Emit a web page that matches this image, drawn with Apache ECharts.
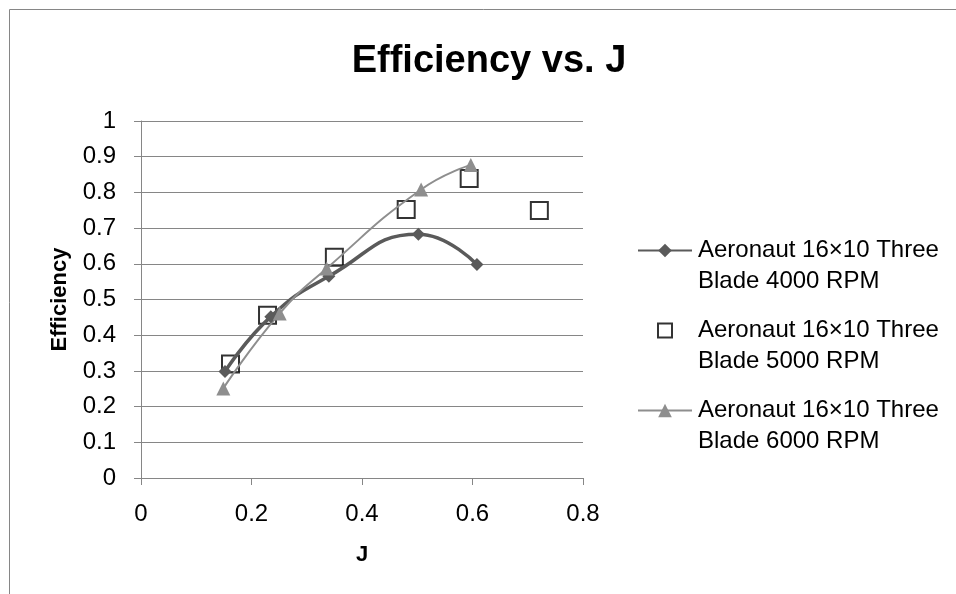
<!DOCTYPE html>
<html>
<head>
<meta charset="utf-8">
<script src="https://cdn.jsdelivr.net/npm/echarts@6/dist/echarts.min.js"></script>
<style>html,body{margin:0;padding:0;background:#fff;}#c{width:956px;height:594px;}</style>
</head>
<body>
<div id="c"></div>
<script>
const titleText = 'Efficiency vs. J';
const xName = 'J';
const yName = 'Efficiency';
const seriesNames = ['Aeronaut 16×10 Three Blade 4000 RPM', 'Aeronaut 16×10 Three Blade 5000 RPM', 'Aeronaut 16×10 Three Blade 6000 RPM'];
const legendLine1 = ['Aeronaut 16×10 Three', 'Aeronaut 16×10 Three', 'Aeronaut 16×10 Three'];
const legendLine2 = ['Blade 4000 RPM', 'Blade 5000 RPM', 'Blade 6000 RPM'];
const j4000 = [0.152, 0.235, 0.340, 0.502, 0.608];
const eff4000 = [0.298, 0.452, 0.565, 0.683, 0.598];
const j5000 = [0.162, 0.229, 0.350, 0.480, 0.594, 0.721];
const eff5000 = [0.319, 0.456, 0.618, 0.752, 0.839, 0.749];
const j6000 = [0.149, 0.251, 0.336, 0.507, 0.597];
const eff6000 = [0.251, 0.461, 0.587, 0.808, 0.877];

const pairs = (xs, ys) => xs.map((x, i) => [x, ys[i]]);
const FONT = 'Liberation Sans';
const AX = '#868686';

const chart = echarts.init(document.getElementById('c'), null, {renderer: 'canvas'});
const legendBase = (idx, top, left, w, h, padLeft) => ({
  data: [seriesNames[idx]], orient: 'vertical', left: left, top: top, padding: 0,
  itemWidth: w, itemHeight: h,
  formatter: () => '{a| }\n{a|' + legendLine1[idx] + '}\n{a|' + legendLine2[idx] + '}',
  textStyle: {
    fontFamily: FONT, fontSize: 24, color: '#000', lineHeight: 31,
    rich: {a: {fontFamily: FONT, fontSize: 24, color: '#000', lineHeight: 31, padding: [0, 0, 0, padLeft]}}
  }
});
chart.setOption({
  animation: false,
  title: {
    text: titleText, left: 489, top: 43, textAlign: 'center', padding: 0,
    textStyle: {fontFamily: FONT, fontWeight: 'bold', fontSize: 38, color: '#000'}
  },
  graphic: [{type: 'rect', shape: {x: 9.5, y: 9.5, width: 1000, height: 1000}, style: {fill: 'none', stroke: AX, lineWidth: 1}, silent: true}],
  grid: {left: 141, right: 373, top: 121, bottom: 116, containLabel: false},
  legend: [
    Object.assign(legendBase(0, 204, 637, 54, 17, 1)),
    Object.assign(legendBase(1, 284, 657, 14, 14, 21), {icon: 'rect'}),
    Object.assign(legendBase(2, 364, 637, 54, 17, 1))
  ],
  xAxis: {
    type: 'value', min: 0, max: 0.8, interval: 0.2,
    name: xName, nameLocation: 'middle', nameGap: 66,
    nameTextStyle: {fontFamily: FONT, fontWeight: 'bold', fontSize: 22, color: '#000'},
    axisLine: {show: true, lineStyle: {color: AX, width: 1}},
    axisTick: {show: true, length: 7, lineStyle: {color: AX}},
    axisLabel: {fontFamily: FONT, fontSize: 24, color: '#000', margin: 24},
    splitLine: {show: false}
  },
  yAxis: {
    type: 'value', min: 0, max: 1, interval: 0.1,
    name: yName, nameLocation: 'middle', nameGap: 70,
    nameTextStyle: {fontFamily: FONT, fontWeight: 'bold', fontSize: 22, color: '#000'},
    axisLine: {show: true, lineStyle: {color: AX, width: 1}},
    axisTick: {show: true, length: 7, lineStyle: {color: AX}},
    axisLabel: {fontFamily: FONT, fontSize: 24, color: '#000', margin: 25},
    splitLine: {show: true, lineStyle: {color: AX, width: 1}}
  },
  series: [
    {
      name: seriesNames[0], type: 'line', smooth: 0.5, data: pairs(j4000, eff4000),
      symbol: 'diamond', symbolSize: 13, showAllSymbol: true,
      lineStyle: {color: '#5a5a5a', width: 3.5},
      itemStyle: {color: '#5a5a5a'}
    },
    {
      name: seriesNames[1], type: 'scatter', data: pairs(j5000, eff5000),
      symbol: 'rect', symbolSize: 17,
      itemStyle: {color: 'rgba(255,255,255,0)', borderColor: '#000', borderWidth: 2}
    },
    {
      name: seriesNames[2], type: 'line', smooth: 0.5, data: pairs(j6000, eff6000),
      symbol: 'triangle', symbolSize: 14, showAllSymbol: true,
      lineStyle: {color: '#8e8e8e', width: 2},
      itemStyle: {color: '#8e8e8e'}
    }
  ]
});
</script>
</body>
</html>
